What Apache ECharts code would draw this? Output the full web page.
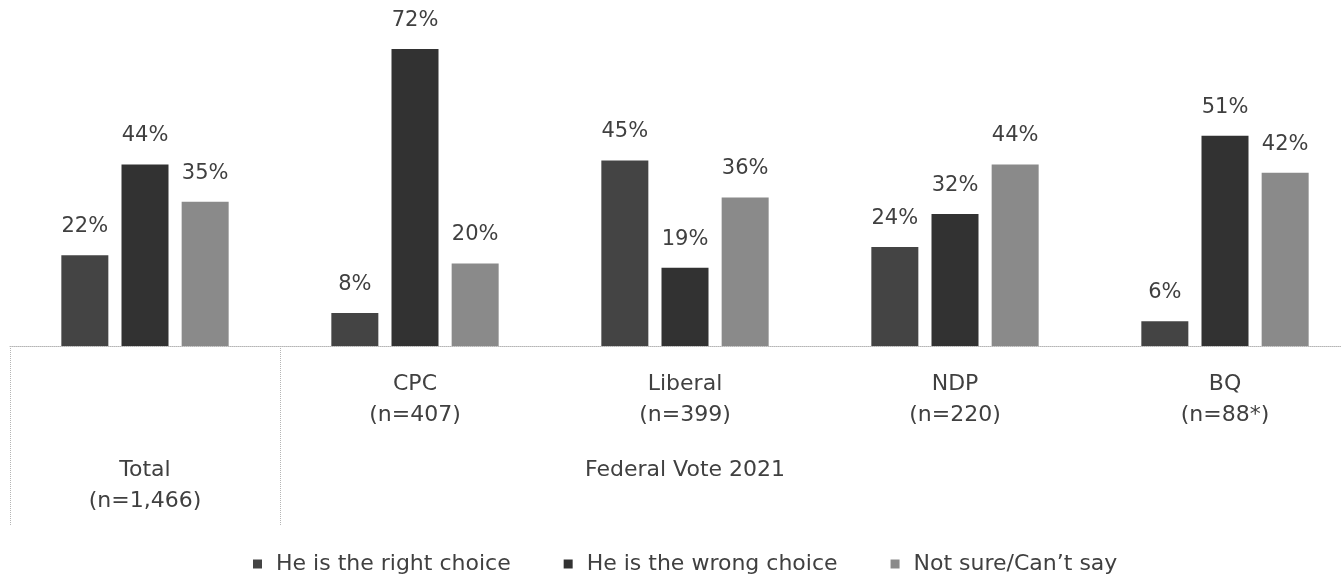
<!DOCTYPE html>
<html>
<head>
<meta charset="utf-8">
<script src="https://cdn.jsdelivr.net/npm/echarts@6/dist/echarts.min.js"></script>
<style>html,body{margin:0;padding:0;background:#fff}#c{width:1341px;height:584px}</style>
</head>
<body>
<div id="c"></div>
<script>
var categories = ['Total\n(n=1,466)', 'CPC\n(n=407)', 'Liberal\n(n=399)', 'NDP\n(n=220)', 'BQ\n(n=88*)'];
var groupLabels = ['Total\n(n=1,466)', '', 'Federal Vote 2021', '', ''];
var seriesNames = ['He is the right choice', 'He is the wrong choice', 'Not sure/Can\u2019t say'];
var rightChoice = [22, 8, 45, 24, 6];
var wrongChoice = [44, 72, 19, 32, 51];
var notSure = [35, 20, 36, 44, 42];

var FONT = 'DejaVu Sans';
var chart = echarts.init(document.getElementById('c'), null, {renderer: 'canvas'});
var lbl = {show: true, position: 'top', distance: 18, formatter: '{c}%', color: '#404040', fontFamily: FONT, fontSize: 21};
function mk(name, data) {
  return {name: name, type: 'bar', data: data, barWidth: 47, barGap: '28%',
    label: lbl, xAxisIndex: 0, yAxisIndex: 0};
}
chart.setOption({
  animation: false,
  color: ['#444444', '#323232', '#8a8a8a'],
  grid: {left: 10, width: 1350, top: 16, bottom: 238, containLabel: false, outerBoundsMode: 'none'},
  legend: {
    bottom: 4, left: 248, icon: 'rect', itemWidth: 9, itemHeight: 9, itemGap: 53,
    textStyle: {fontFamily: FONT, fontSize: 22, color: '#404040', padding: [0, 0, 0, 9]},
    data: seriesNames
  },
  xAxis: [{
    type: 'category', data: categories, position: 'bottom',
    axisLine: {show: true, lineStyle: {color: '#b5b5b5', type: 'dotted', width: 1}},
    axisTick: {show: true, length: 180, interval: function (i) { return i <= 1; },
      lineStyle: {color: '#b5b5b5', type: 'dotted', width: 1}},
    axisLabel: {interval: 0, margin: 23, lineHeight: 31, verticalAlign: 'top', color: '#404040',
      fontFamily: FONT, fontSize: 22,
      formatter: function (v, i) { return i === 0 ? '' : v; }}
  }, {
    type: 'category', data: categories, position: 'bottom', offset: 85,
    axisLine: {show: false}, axisTick: {show: false},
    axisLabel: {interval: 0, margin: 24, lineHeight: 31, verticalAlign: 'top', color: '#404040',
      fontFamily: FONT, fontSize: 22,
      formatter: function (v, i) { return groupLabels[i]; }}
  }],
  yAxis: {type: 'value', min: 0, max: 80, show: false, splitLine: {show: false}},
  series: [
    mk(seriesNames[0], rightChoice),
    mk(seriesNames[1], wrongChoice),
    mk(seriesNames[2], notSure)
  ]
});
</script>
</body>
</html>
